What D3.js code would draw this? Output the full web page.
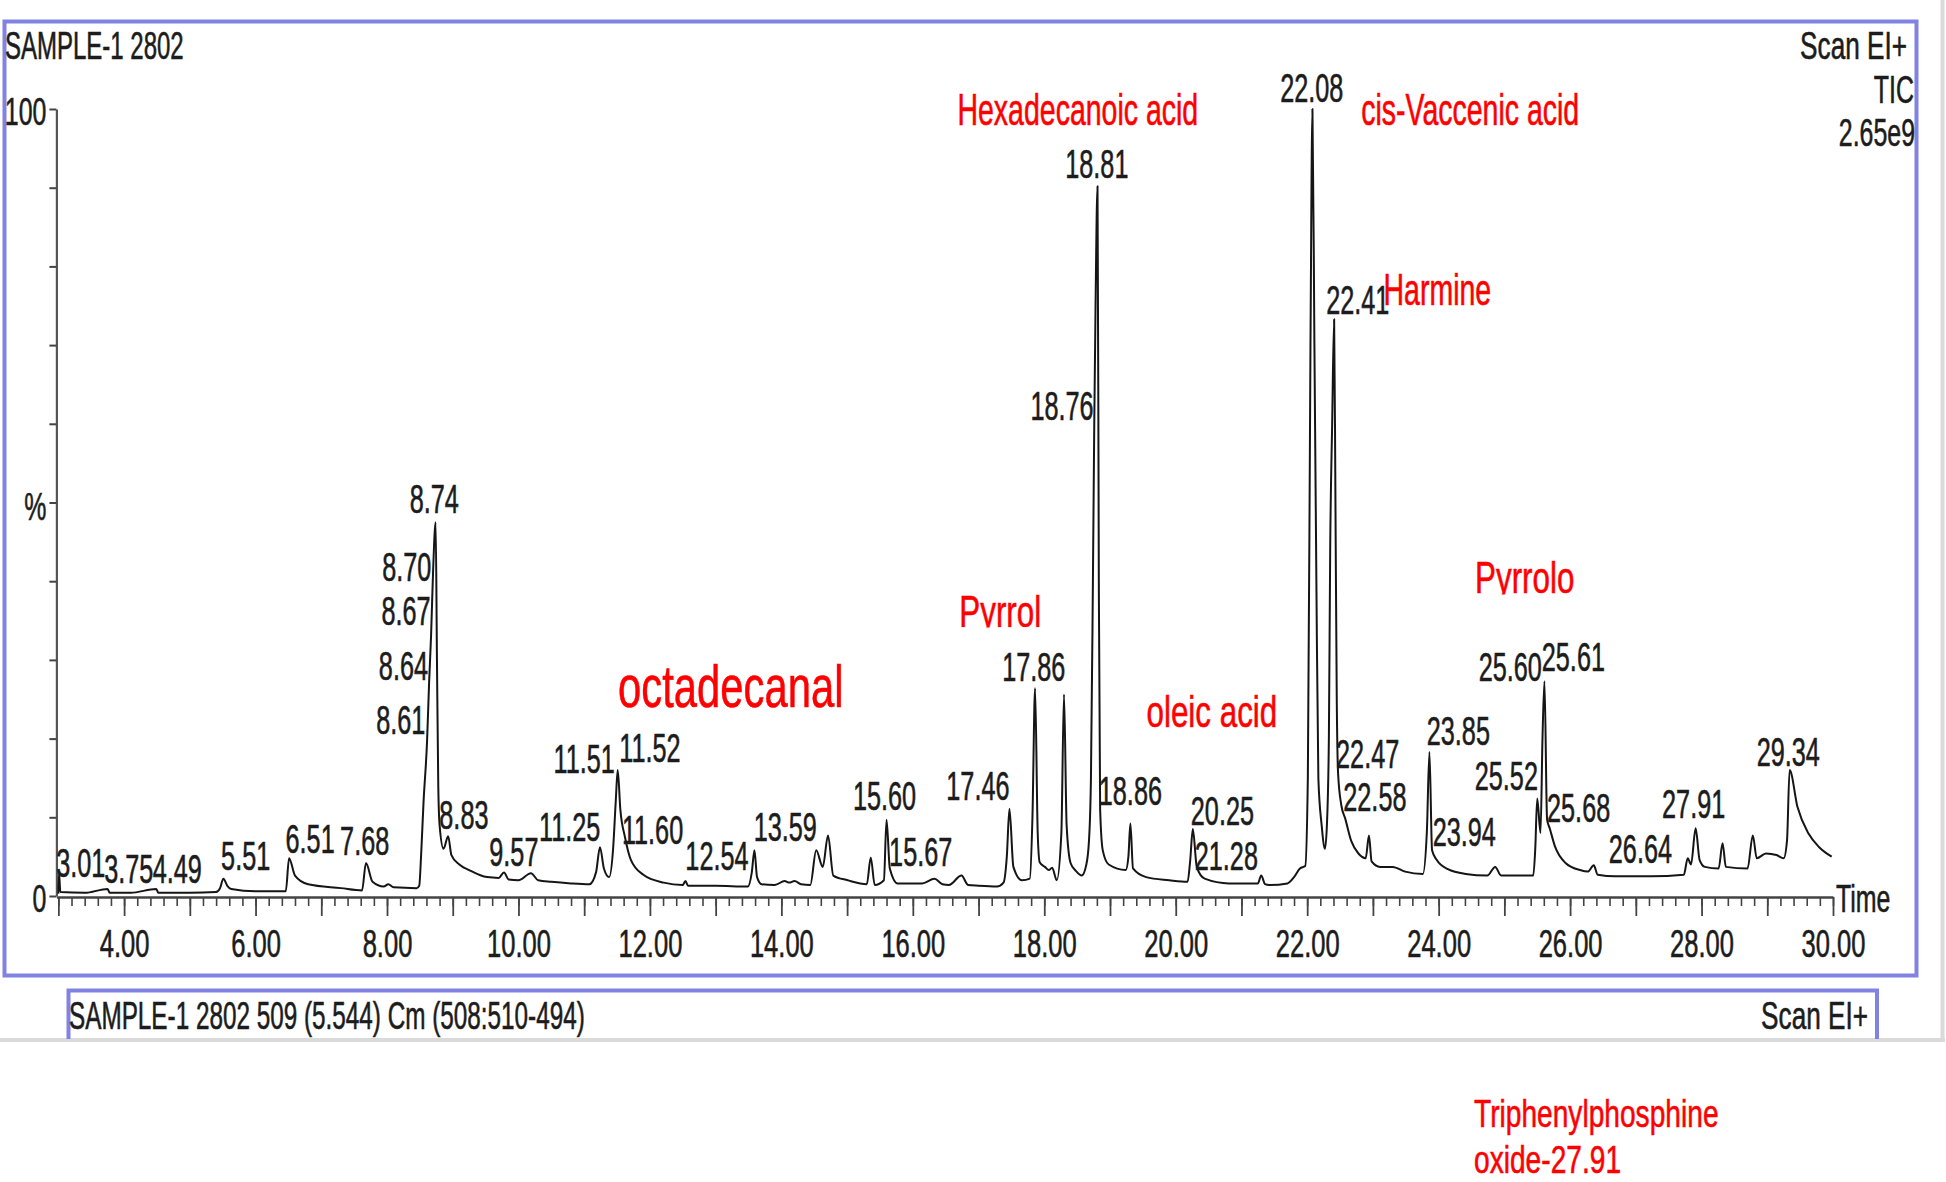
<!DOCTYPE html>
<html>
<head>
<meta charset="utf-8">
<script src="https://cdn.jsdelivr.net/npm/d3@7"></script>
<style>
  html, body { margin: 0; padding: 0; background: #fff; }
  svg { display: block; }
</style>
</head>
<body>
<div id="chart"></div>
<script>
// retention time (min) and TIC intensity (%)
const rt = [
  3.00, 3.01, 3.03, 3.40, 3.75, 3.78, 4.10, 4.49, 4.52, 5.00,
  5.40, 5.46, 5.51, 5.57, 5.63, 6.00, 6.46, 6.51, 6.60, 6.80,
  7.30, 7.62, 7.68, 7.78, 7.95, 8.02, 8.10, 8.45, 8.49, 8.52,
  8.555, 8.61, 8.64, 8.67, 8.70, 8.74, 8.76, 8.78, 8.80, 8.86,
  8.93, 8.98, 9.10, 9.25, 9.52, 9.70, 9.78, 9.85, 10.00, 10.19,
  10.30, 10.50, 10.80, 11.08, 11.18, 11.24, 11.30, 11.38, 11.44, 11.48,
  11.51, 11.55, 11.62, 11.71, 11.90, 12.21, 12.50, 12.54, 12.58, 13.00,
  13.49, 13.55, 13.59, 13.63, 13.70, 13.90, 14.05, 14.12, 14.20, 14.30,
  14.44, 14.53, 14.63, 14.71, 14.79, 15.01, 15.30, 15.36, 15.42, 15.56,
  15.60, 15.65, 15.77, 16.14, 16.33, 16.45, 16.55, 16.74, 16.84, 17.00,
  17.28, 17.38, 17.43, 17.47, 17.53, 17.66, 17.78, 17.82, 17.86, 17.90,
  17.93, 18.01, 18.07, 18.12, 18.19, 18.26, 18.30, 18.34, 18.40, 18.48,
  18.57, 18.64, 18.68, 18.71, 18.74, 18.76, 18.78, 18.81, 18.83, 18.85,
  18.89, 18.98, 19.24, 19.28, 19.31, 19.35, 19.55, 19.90, 20.18, 20.22,
  20.26, 20.32, 20.44, 20.81, 21.25, 21.30, 21.36, 21.42, 21.70, 21.80,
  21.89, 21.97, 22.01, 22.05, 22.08, 22.11, 22.14, 22.17, 22.22, 22.27,
  22.30, 22.33, 22.35, 22.38, 22.41, 22.43, 22.45, 22.47, 22.52, 22.58,
  22.67, 22.78, 22.89, 22.94, 22.98, 23.11, 23.30, 23.49, 23.76, 23.82,
  23.86, 23.90, 23.97, 24.14, 24.41, 24.74, 24.86, 24.95, 25.44, 25.47,
  25.50, 25.55, 25.58, 25.61, 25.65, 25.69, 25.77, 25.93, 26.15, 26.27,
  26.36, 26.42, 26.69, 27.23, 27.73, 27.79, 27.84, 27.91, 27.97, 28.05,
  28.26, 28.32, 28.37, 28.70, 28.78, 28.84, 28.98, 29.14, 29.25, 29.30,
  29.34, 29.46, 29.63, 29.79, 29.98
];
const tic = [
  0.3, 3.0, 0.5, 0.4, 0.9, 0.4, 0.4, 0.9, 0.4, 0.4,
  0.5, 1.0, 2.2, 1.3, 0.9, 0.6, 0.6, 4.8, 2.6, 1.5,
  1.0, 0.7, 4.2, 1.8, 1.2, 1.5, 1.1, 1.0, 1.3, 5.4,
  11.8, 19.8, 27.0, 33.0, 41.0, 47.5, 30.0, 14.0, 9.0, 6.0,
  7.6, 5.2, 4.0, 3.3, 2.4, 2.3, 3.0, 2.1, 2.0, 2.9,
  2.0, 1.8, 1.6, 1.5, 3.0, 6.2, 3.5, 2.4, 6.0, 12.0,
  16.0, 11.0, 7.5, 4.6, 2.7, 1.7, 1.4, 1.9, 1.3, 1.3,
  1.2, 3.0, 5.8, 2.4, 1.5, 1.4, 1.9, 1.7, 1.9, 1.5,
  1.4, 5.8, 3.7, 7.7, 2.6, 2.0, 1.5, 4.9, 1.4, 2.0,
  9.7, 3.5, 1.6, 1.6, 2.2, 1.5, 1.4, 2.6, 1.4, 1.3,
  1.2, 1.7, 5.0, 11.1, 3.7, 2.0, 2.2, 10.0, 26.4, 8.0,
  4.3, 3.7, 3.3, 3.6, 2.0, 8.0, 25.6, 9.0, 4.2, 3.2,
  2.6, 4.0, 7.0, 15.0, 40.0, 59.5, 75.0, 90.2, 40.0, 11.0,
  5.8, 4.0, 3.3, 5.0, 9.2, 3.5, 2.4, 2.0, 1.8, 4.5,
  8.5, 3.7, 2.2, 1.6, 1.6, 2.6, 1.5, 1.4, 1.6, 2.4,
  3.5, 3.8, 15.0, 70.0, 100, 70.0, 40.0, 15.0, 9.0, 6.0,
  9.0, 20.0, 44.0, 60.0, 73.3, 50.0, 25.0, 15.6, 11.5, 9.8,
  7.0, 5.4, 4.8, 7.7, 4.4, 3.7, 3.7, 3.1, 2.8, 8.0,
  18.3, 5.8, 4.6, 3.4, 2.8, 2.6, 3.7, 2.6, 2.6, 6.0,
  12.4, 8.0, 20.0, 27.3, 9.7, 8.6, 6.3, 4.2, 3.3, 3.1,
  3.9, 2.7, 2.5, 2.5, 2.7, 4.8, 4.0, 8.6, 4.6, 3.7,
  3.5, 6.7, 3.7, 3.5, 7.7, 4.8, 5.4, 5.2, 4.8, 7.0,
  16.0, 11.3, 7.9, 6.2, 5.0
];

// peak labels (retention times), with where the software put each label
const peakText = ["3.01", "3.75", "4.49", "5.51", "6.51", "7.68", "8.61", "8.64", "8.67", "8.70",
  "8.74", "8.83", "9.57", "11.25", "11.51", "11.52", "11.60", "12.54", "13.59", "15.60",
  "15.67", "17.46", "17.86", "18.76", "18.81", "18.86", "20.25", "21.28", "22.08", "22.41",
  "22.47", "22.58", "23.85", "23.94", "25.52", "25.60", "25.61", "25.68", "26.64", "27.91", "29.34"];
const peakLabelT = [3.34, 4.07, 4.81, 5.85, 6.83, 7.66, 8.21, 8.25, 8.29, 8.30,
  8.72, 9.17, 9.93, 10.78, 11.00, 12.00, 12.04, 13.02, 14.06, 15.57,
  16.12, 16.99, 17.84, 18.27, 18.80, 19.31, 20.71, 20.77, 22.07, 22.77,
  22.92, 23.03, 24.30, 24.39, 25.03, 25.09, 26.05, 26.13, 27.07, 27.88, 29.32];
const peakLabelPct = [4.3, 3.5, 3.5, 5.1, 7.3, 7.1, 22.4, 29.3, 36.3, 41.8,
  50.5, 10.4, 5.7, 8.8, 17.5, 18.8, 8.5, 5.1, 8.8, 12.8,
  5.7, 14.0, 29.2, 62.3, 93.0, 13.4, 10.9, 5.1, 102.7, 75.8,
  18.1, 12.6, 21.0, 8.2, 15.3, 29.2, 30.4, 11.2, 6.0, 11.7, 18.4];

// compound names written in red
const compoundNames = ["Hexadecanoic acid", "cis-Vaccenic acid", "Harmine", "Pyrrol", "Pyrrolo", "octadecanal", "oleic acid"];
const compoundT = [18.51, 24.48, 23.98, 17.33, 25.31, 13.23, 20.55];
const compoundPct = [100, 100, 77.1, 36.3, 40.5, 26.7, 23.5];
const footNote = ["Triphenylphosphine", "oxide-27.91"];

const yTicks = [0, 10, 20, 30, 40, 50, 60, 70, 80, 90, 100];
const yTickText = { 0: "0", 50: "%", 100: "100" };

window.onload = () => {
    const W = 1946, H = 1182;
    const NARROW = "'Liberation Sans Narrow', 'Arial Narrow', 'Liberation Sans', Arial, sans-serif";
    const BLUE = '#8183e2';
    const RED = '#ff0000';
    const INK = '#1c1c1c';

    const svg = d3.select('#chart').append('svg')
        .attr('width', W)
        .attr('height', H)
        .attr('font-family', NARROW);

    svg.append('rect').attr('width', W).attr('height', H).attr('fill', '#fff');

    // if the narrow face is missing, squeeze the regular one instead
    const probe = svg.append('text').attr('font-size', 100).text('0123456789');
    const wN = probe.node().getComputedTextLength();
    probe.attr('font-family', "'Liberation Sans', Arial, sans-serif");
    const wR = probe.node().getComputedTextLength();
    probe.remove();
    const K = wN / wR < 0.9 ? 1 : 0.82;

    // text is tall and narrow in the original, a bit heavy too
    function put(g, str, px, py, size, k, color, anchor) {
        return g.append('text')
            .attr('transform', `translate(${px},${py}) scale(${k * K},1)`)
            .attr('text-anchor', anchor)
            .attr('dy', '0.36em')
            .attr('font-size', size)
            .attr('fill', color)
            .attr('stroke', color)
            .attr('stroke-width', 0.6)
            .text(str);
    }

    // scales
    const x = d3.scaleLinear().domain([2.97, 30]).range([56.4, 1833]);
    const y = d3.scaleLinear().domain([0, 100]).range([896, 109]);

    // frames
    svg.append('rect')
        .attr('x', 4.5).attr('y', 21.5).attr('width', 1912).attr('height', 954)
        .attr('fill', 'none').attr('stroke', BLUE).attr('stroke-width', 4);
    svg.append('path')
        .attr('d', 'M0,1040 H1945 M1942.5,0 V1040')
        .attr('fill', 'none').attr('stroke', '#dadada').attr('stroke-width', 4);
    svg.append('path')
        .attr('d', 'M68.5,1039 V990.5 H1877 V1039')
        .attr('fill', 'none').attr('stroke', BLUE).attr('stroke-width', 4);

    // header / footer texts
    const hdr = svg.append('g');
    put(hdr, 'SAMPLE-1 2802', 5, 45, 38, 0.77, INK, 'start');
    put(hdr, 'Scan EI+', 1907, 45, 38, 0.84, INK, 'end');
    put(hdr, 'TIC', 1914, 89, 38, 0.8, INK, 'end');
    put(hdr, '2.65e9', 1915, 132, 38, 0.8, INK, 'end');
    put(hdr, 'SAMPLE-1 2802 509 (5.544) Cm (508:510-494)', 69, 1015, 38, 0.78, INK, 'start');
    put(hdr, 'Scan EI+', 1868, 1015, 38, 0.84, INK, 'end');

    // x axis: minor ticks every 0.2 min, major every minute
    const minor = d3.range(15, 151).map(i => i / 5);
    const gxMinor = svg.append('g')
        .attr('transform', `translate(0,${y(0) + 1})`)
        .call(d3.axisBottom(x).tickValues(minor).tickSize(9).tickSizeOuter(0).tickFormat(''));
    gxMinor.select('.domain').attr('stroke', '#444').attr('stroke-width', 2.5);
    gxMinor.selectAll('.tick line').attr('stroke', '#444').attr('stroke-width', 1.6);

    const gx = svg.append('g')
        .attr('transform', `translate(0,${y(0) + 1})`)
        .call(d3.axisBottom(x).tickValues(d3.range(3, 31)).tickSize(19).tickSizeOuter(0)
            .tickFormat(d => d % 2 === 0 ? d.toFixed(2) : ''));
    gx.select('.domain').remove();
    gx.selectAll('.tick line').attr('stroke', '#444').attr('stroke-width', 1.8);
    gx.selectAll('.tick text')
        .attr('y', 0).attr('dy', '0.36em')
        .attr('transform', `translate(0,46) scale(${0.82 * K},1)`)
        .attr('font-family', NARROW)
        .attr('font-size', 38)
        .attr('fill', INK)
        .attr('stroke', INK)
        .attr('stroke-width', 0.6);
    put(svg, 'Time', 1836, y(0) + 2, 38, 0.8, INK, 'start');

    // y axis
    const gy = svg.append('g')
        .attr('transform', `translate(${x(2.97)},0)`)
        .call(d3.axisLeft(y).tickValues(yTicks).tickSize(7).tickSizeOuter(0).tickFormat(''));
    gy.select('.domain').attr('stroke', '#555').attr('stroke-width', 2.2);
    gy.selectAll('.tick line').attr('stroke', '#444').attr('stroke-width', 2);
    yTicks.filter(v => yTickText[v]).forEach(v => {
        put(svg, yTickText[v], x(2.97) - 10, y(v) + (v === 50 ? 4 : 2), 38, 0.8, INK, 'end');
    });

    // trace
    const pts = rt.map((t, i) => ({ t: t, v: tic[i] }));
    svg.append('path')
        .datum(pts)
        .attr('fill', 'none')
        .attr('stroke', '#151515')
        .attr('stroke-width', 2)
        .attr('stroke-linejoin', 'round')
        .attr('d', d3.line().x(d => x(d.t)).y(d => y(d.v)).curve(d3.curveMonotoneX));

    // peak labels
    const gl = svg.append('g');
    peakText.forEach((s, i) => {
        put(gl, s, x(peakLabelT[i]), y(peakLabelPct[i]), 40, 0.77, INK, 'middle');
    });

    // compound names
    const redSize = { 'octadecanal': 60, 'Pyrrol': 45, 'Pyrrolo': 45, 'oleic acid': 45 };
    const gr = svg.append('g');
    compoundNames.forEach((s, i) => {
        const size = redSize[s] || 44;
        const k = redSize[s] ? 0.85 : 0.79;
        const px = x(compoundT[i]), py = y(compoundPct[i]);
        let g = gr;
        if (s.startsWith('Pyrrol')) {
            // the descender is cut off in the original
            const id = 'clip' + i;
            svg.append('clipPath').attr('id', id).append('rect')
                .attr('x', px - 200).attr('y', py - 100)
                .attr('width', 400).attr('height', 100 + size * 0.36 + 1);
            g = gr.append('g').attr('clip-path', `url(#${id})`);
        }
        put(g, s, px, py, size, k, RED, 'middle');
    });
    put(gr, footNote[0], 1474, 1113, 39, 0.88, RED, 'start');
    put(gr, footNote[1], 1474, 1159, 39, 0.88, RED, 'start');
};
</script>
</body>
</html>
